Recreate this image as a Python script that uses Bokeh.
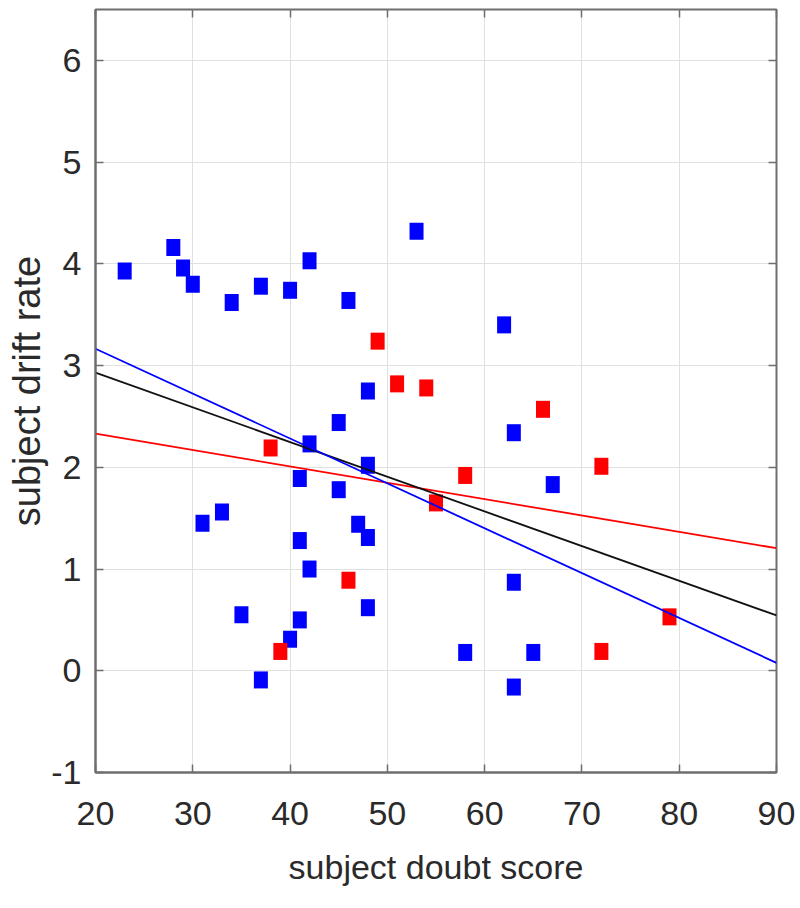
from bokeh.plotting import figure
from bokeh.models import Range1d, FixedTicker, LinearAxis, CustomJSTickFormatter
from bokeh.embed import file_html
from bokeh.resources import INLINE

# ---- data ----
blue_x = [23, 28, 29, 30, 34, 37, 40, 42, 46, 53, 62, 48, 45, 42, 48, 41, 45, 63, 67,
          31, 33, 47, 48, 41, 42, 63, 35, 48, 41, 40, 37, 58, 65, 63]
blue_y = [3.93, 4.16, 3.96, 3.80, 3.62, 3.78, 3.74, 4.03, 3.64, 4.32, 3.40, 2.75, 2.44,
          2.23, 2.02, 1.89, 1.78, 2.34, 1.83, 1.45, 1.56, 1.44, 1.31, 1.28, 1.00, 0.87,
          0.55, 0.62, 0.50, 0.31, -0.09, 0.18, 0.18, -0.16]

red_x = [49, 51, 54, 66, 38, 58, 72, 55, 46, 39, 72, 79]
red_y = [3.24, 2.82, 2.78, 2.57, 2.19, 1.92, 2.01, 1.65, 0.89, 0.19, 0.19, 0.53]

fit_x = [20, 90]
blue_fit = [3.165, 0.078]
black_fit = [2.93, 0.544]
red_fit = [2.33, 1.205]

x_ticks = [20, 30, 40, 50, 60, 70, 80, 90]
y_ticks = [-1, 0, 1, 2, 3, 4, 5, 6]

FONT = "Liberation Sans"
FRAME = "#6e6e6e"
TXT = "#2a2a2a"

p = figure(width=800, height=900, output_backend="svg", toolbar_location=None,
           x_range=Range1d(20, 90), y_range=Range1d(-1, 6.5),
           min_border_left=95, min_border_right=24, min_border_top=9, min_border_bottom=128)

p.outline_line_color = FRAME
p.outline_line_width = 2

p.xgrid.ticker = FixedTicker(ticks=x_ticks)
p.ygrid.ticker = FixedTicker(ticks=y_ticks)
p.grid.grid_line_color = "#e0e0e0"
p.grid.grid_line_width = 1

plain = CustomJSTickFormatter(code="return tick.toString()")

for ax in (p.xaxis[0], p.yaxis[0]):
    ax.axis_line_color = FRAME
    ax.axis_line_width = 2
    ax.major_tick_in = 8
    ax.major_tick_out = 0
    ax.minor_tick_line_color = None
    ax.major_tick_line_color = FRAME
    ax.major_tick_line_width = 1.5
    ax.major_label_text_font = FONT
    ax.major_label_text_font_size = "34px"
    ax.major_label_text_color = TXT
    ax.axis_label_text_font = FONT
    ax.axis_label_text_font_style = "normal"
    ax.axis_label_text_color = TXT
    ax.formatter = plain

p.xaxis.ticker = FixedTicker(ticks=x_ticks)
p.yaxis.ticker = FixedTicker(ticks=y_ticks)
p.xaxis.axis_label = "subject doubt score"
p.yaxis.axis_label = "subject drift rate"
p.xaxis.axis_label_text_font_size = "34px"
p.yaxis.axis_label_text_font_size = "38px"
p.xaxis.major_label_standoff = 29
p.xaxis.axis_label_standoff = 20
p.yaxis.major_label_standoff = 14
p.yaxis.axis_label_standoff = 0

# inner ticks on top and right edges
blank = CustomJSTickFormatter(code="return ''")
for loc, tk in (("above", x_ticks), ("right", y_ticks)):
    ax = LinearAxis(ticker=FixedTicker(ticks=tk), formatter=blank,
                    major_tick_in=8, major_tick_out=0, minor_tick_line_color=None,
                    major_tick_line_color=FRAME, major_tick_line_width=1.5,
                    axis_line_color=None, major_label_standoff=0,
                    major_label_text_font_size="1px")
    p.add_layout(ax, loc)

p.rect(blue_x, blue_y, width=14, height=17, width_units="screen", height_units="screen",
       fill_color="#0000ff", line_color=None)
p.rect(red_x, red_y, width=14, height=17, width_units="screen", height_units="screen",
       fill_color="#ff0000", line_color=None)

p.line(fit_x, red_fit, line_color="#ff0000", line_width=1.8)
p.line(fit_x, black_fit, line_color="#111111", line_width=1.8)
p.line(fit_x, blue_fit, line_color="#0000ff", line_width=1.8)

open("out.html", "w").write(file_html(p, INLINE))
